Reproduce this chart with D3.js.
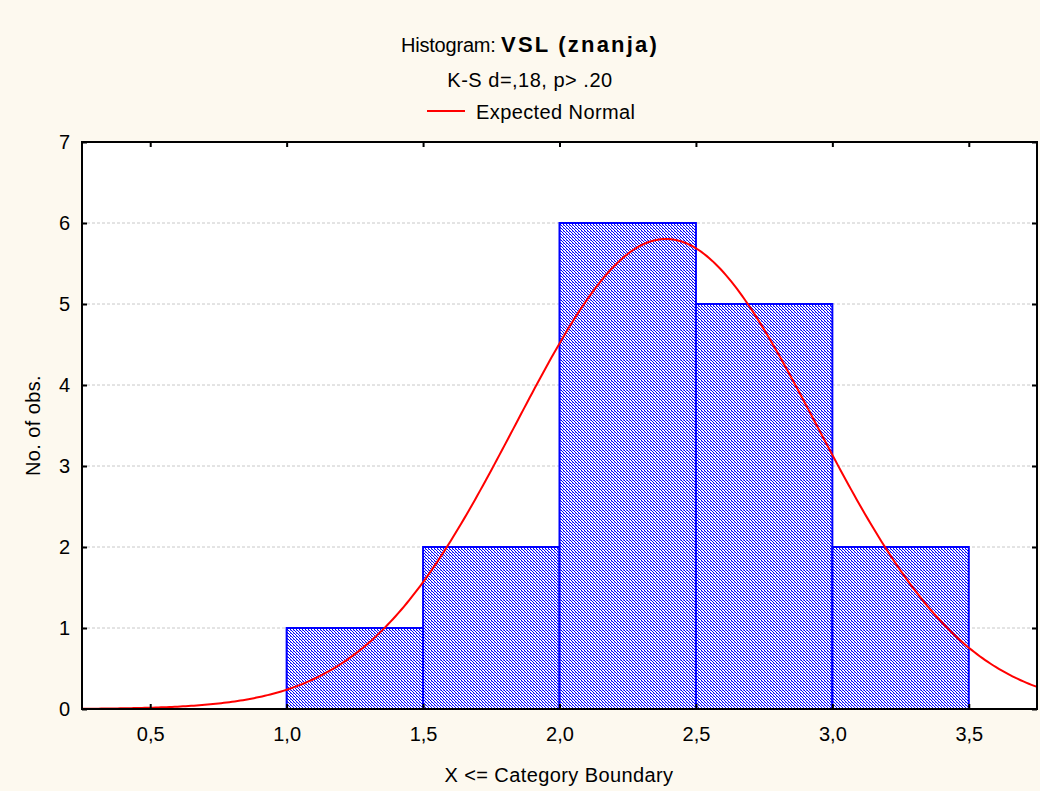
<!DOCTYPE html>
<html>
<head>
<meta charset="utf-8">
<script src="https://cdn.jsdelivr.net/npm/d3@7"></script>
<style>
  body { margin: 0; background: #fdf9ef; }
  svg { display: block; font-family: "Liberation Sans", Arial, sans-serif; }
</style>
</head>
<body>
<div id="chart"></div>
<script>
// bins (upper boundaries) and counts
var binStart = [1.0, 1.5, 2.0, 2.5, 3.0];
var binEnd = [1.5, 2.0, 2.5, 3.0, 3.5];
var counts = [1, 2, 6, 5, 2];
var xTicks = [0.5, 1.0, 1.5, 2.0, 2.5, 3.0, 3.5];
var yTicks = [0, 1, 2, 3, 4, 5, 6, 7];
// fitted normal
var normMean = 2.39, normSd = 0.55, nObs = 16, binWidth = 0.5;

function drawHist() {
   var width = 1040, height = 791;
   var m = {left: 82, top: 142, right: 3, bottom: 82};
   var fmt = function (d) { return d3.format('.1f')(d).replace('.', ','); };

   var svg = d3.select('#chart').append('svg')
      .attr('width', width).attr('height', height);

   var defs = svg.append('defs');
   defs.append('pattern')
      .attr('id', 'hatch')
      .attr('patternUnits', 'userSpaceOnUse')
      .attr('width', 3).attr('height', 3)
      .call(function (p) {
         p.append('rect').attr('width', 3).attr('height', 3).attr('fill', '#ffffff');
         [0, 1, 2].forEach(function (i) {
            p.append('rect').attr('x', i).attr('y', i).attr('width', 1).attr('height', 1)
               .attr('fill', '#0000ff');
         });
         p.append('rect').attr('x', 2).attr('y', 0).attr('width', 1).attr('height', 1)
            .attr('fill', '#8080ff');
      });
   defs.append('clipPath').attr('id', 'clip')
      .append('rect')
      .attr('x', m.left).attr('y', m.top)
      .attr('width', width - m.left - m.right)
      .attr('height', height - m.top - m.bottom);

   var x = d3.scaleLinear().domain([0.25, 3.75]).range([m.left, width - m.right]);
   var y = d3.scaleLinear().domain([0, 7]).range([height - m.bottom, m.top]);

   svg.append('rect')
      .attr('x', m.left).attr('y', m.top)
      .attr('width', x.range()[1] - m.left).attr('height', y(0) - m.top)
      .attr('fill', '#ffffff');

   // grid
   svg.append('g').selectAll('line').data(yTicks.slice(1, -1)).enter().append('line')
      .attr('x1', m.left).attr('x2', x.range()[1])
      .attr('y1', function (d) { return y(d); }).attr('y2', function (d) { return y(d); })
      .attr('stroke', '#c8c8c8').attr('stroke-dasharray', '3,2');

   // bars
   svg.append('g').selectAll('rect').data(counts).enter().append('rect')
      .attr('x', function (d, i) { return x(binStart[i]); })
      .attr('y', function (d) { return y(d); })
      .attr('width', function (d, i) { return x(binEnd[i]) - x(binStart[i]); })
      .attr('height', function (d) { return y(0) - y(d); })
      .attr('fill', 'url(#hatch)')
      .attr('stroke', '#0000ff').attr('stroke-width', 2);

   // expected normal
   var pts = d3.range(0.25, 3.7501, 0.01).map(function (v) {
      var z = (v - normMean) / normSd;
      return [v, nObs * binWidth * Math.exp(-0.5 * z * z) / (normSd * Math.sqrt(2 * Math.PI))];
   });
   svg.append('path').datum(pts)
      .attr('clip-path', 'url(#clip)')
      .attr('d', d3.line().x(function (d) { return x(d[0]); }).y(function (d) { return y(d[1]); }))
      .attr('fill', 'none').attr('stroke', '#ff0000').attr('stroke-width', 2);

   // frame
   svg.append('rect')
      .attr('x', m.left).attr('y', m.top)
      .attr('width', x.range()[1] - m.left).attr('height', y(0) - m.top)
      .attr('fill', 'none').attr('stroke', '#000').attr('stroke-width', 2);

   // axes with inside ticks
   var ax = svg.append('g').attr('transform', 'translate(0,' + y(0) + ')')
      .call(d3.axisBottom(x).tickValues(xTicks).tickFormat(fmt).tickSizeInner(-5).tickSizeOuter(0).tickPadding(18));
   var axTop = svg.append('g').attr('transform', 'translate(0,' + m.top + ')')
      .call(d3.axisTop(x).tickValues(xTicks).tickSizeInner(-5).tickSizeOuter(0).tickFormat(''));
   var ay = svg.append('g').attr('transform', 'translate(' + m.left + ',0)')
      .call(d3.axisLeft(y).tickValues(yTicks).tickFormat(d3.format('d')).tickSizeInner(-5).tickSizeOuter(0).tickPadding(12));
   var ayR = svg.append('g').attr('transform', 'translate(' + x.range()[1] + ',0)')
      .call(d3.axisRight(y).tickValues(yTicks).tickSizeInner(-5).tickSizeOuter(0).tickFormat(''));
   [ax, axTop, ay, ayR].forEach(function (g) {
      g.select('.domain').remove();
      g.selectAll('line').attr('stroke', '#000').attr('stroke-width', 2);
      g.selectAll('text').attr('fill', '#000').style('font-size', '20px')
         .style('font-family', '"Liberation Sans", Arial, sans-serif');
   });

   // titles
   var t = svg.append('text').attr('x', 530).attr('y', 52).attr('text-anchor', 'middle').attr('fill', '#000');
   t.append('tspan').text('Histogram: ').style('font-size', '20px').style('letter-spacing', '-0.2px');
   t.append('tspan').text('VSL (znanja)').style('font-size', '22px').style('font-weight', 'bold')
      .style('letter-spacing', '2.2px');
   svg.append('text').attr('x', 530).attr('y', 87).attr('text-anchor', 'middle')
      .style('font-size', '20px').style('letter-spacing', '0.5px').text('K-S d=,18, p> .20');
   svg.append('line').attr('x1', 427).attr('x2', 465).attr('y1', 111).attr('y2', 111)
      .attr('stroke', '#ff0000').attr('stroke-width', 2);
   svg.append('text').attr('x', 476).attr('y', 119)
      .style('font-size', '20px').style('letter-spacing', '0.4px').text('Expected Normal');

   svg.append('text').attr('x', 559).attr('y', 782).attr('text-anchor', 'middle')
      .style('font-size', '20px').style('letter-spacing', '0.4px').text('X <= Category Boundary');
   svg.append('text').attr('transform', 'translate(40,' + ((m.top + y(0)) / 2) + ') rotate(-90)')
      .attr('text-anchor', 'middle').style('font-size', '20px').style('letter-spacing', '0.4px').text('No. of obs.');
}

drawHist();
</script>
</body>
</html>
